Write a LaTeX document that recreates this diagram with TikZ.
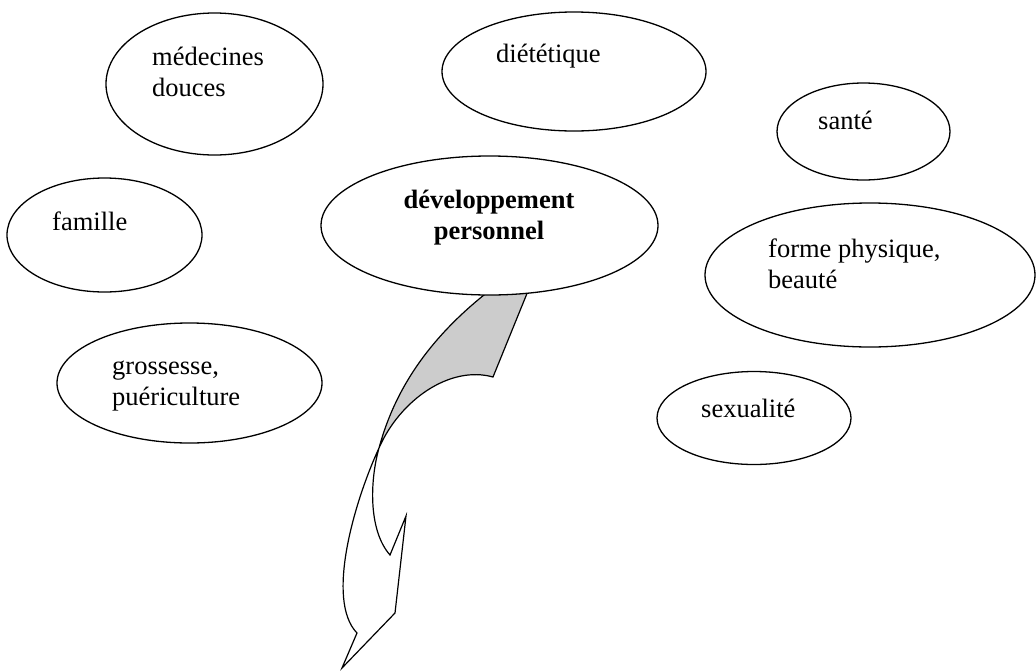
\documentclass[tikz,border=0pt]{standalone}
\usepackage{fontspec}
\setmainfont{Liberation Serif}
\usetikzlibrary{shapes.geometric}
\begin{document}
\begin{tikzpicture}[x=1pt,y=-1pt,
  bubble/.style={ellipse, draw, fill=white, line width=1.3pt, inner sep=0pt},
  caption/.style={anchor=base west, inner sep=0pt, font=\fontsize{26.5}{31}\selectfont},
  arrowline/.style={draw, line width=1.2pt},
  backface/.style={fill=black!20}]
\useasboundingbox (0,0) rectangle (1036,670);

% curved arrow leaving the central bubble
\coordinate (A) at (489,291);
\coordinate (B) at (528,291);
\coordinate (D) at (493,377);
\coordinate (C) at (379,448);
\coordinate (E) at (390,555);
\coordinate (F) at (406,516);
\coordinate (G) at (395,613);
\coordinate (T) at (342,668);
\coordinate (H) at (357,633);

% shaded back of the ribbon
\path[backface] (A) -- (B) -- (D)
  .. controls (450,365) and (400,400) .. (C)
  .. controls (392,400) and (420,345) .. (A) -- cycle;

% outline of the arrow
\path[arrowline] (A)
  .. controls (420,345) and (392,400) .. (C)
  .. controls (355,500) and (325,600) .. (H)
  -- (T) -- (G) -- (F) -- (E)
  .. controls (368,530) and (370,480) .. (C)
  .. controls (400,400) and (450,365) .. (D)
  -- (B);

% bubbles
\node[bubble, minimum width=217pt, minimum height=142pt] (med) at (214.5,84) {};
\node[bubble, minimum width=264pt, minimum height=119pt] (diet) at (574,71.5) {};
\node[bubble, minimum width=173pt, minimum height=97pt] (sante) at (863.5,131.5) {};
\node[bubble, minimum width=195pt, minimum height=114pt] (fam) at (104.5,235) {};
\node[bubble, minimum width=337pt, minimum height=139pt] (dev) at (489.5,225.5) {};
\node[bubble, minimum width=330pt, minimum height=144pt] (forme) at (870,275) {};
\node[bubble, minimum width=265pt, minimum height=120pt] (gross) at (189.5,383) {};
\node[bubble, minimum width=194pt, minimum height=93pt] (sex) at (754,418) {};

% texts
\node[caption] (medt) at (152,65) {\begin{tabular}[t]{@{}l@{}}médecines\\douces\end{tabular}};
\node[caption] (dietdt) at (496,62) {diététique};
\node[caption] (santet) at (818,129) {santé};
\node[caption] (famt) at (52,230) {famille};
\node[caption, anchor=base, font=\fontsize{26.5}{31}\selectfont\bfseries] (devt) at (489,208)
  {\begin{tabular}[t]{@{}c@{}}développement\\personnel\end{tabular}};
\node[caption] (formet) at (768,257) {\begin{tabular}[t]{@{}l@{}}forme physique,\\beauté\end{tabular}};
\node[caption] (grosst) at (112,374) {\begin{tabular}[t]{@{}l@{}}grossesse,\\puériculture\end{tabular}};
\node[caption] (sext) at (701,417) {sexualité};
\end{tikzpicture}
\end{document}
